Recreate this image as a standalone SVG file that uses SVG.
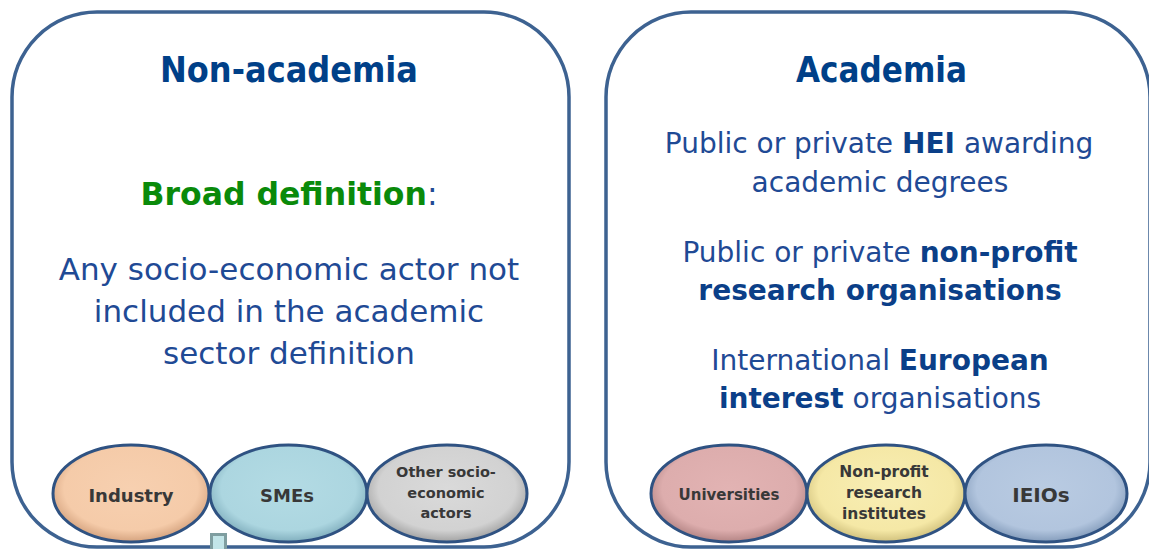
<svg xmlns="http://www.w3.org/2000/svg" width="1149" height="549" viewBox="0 0 1149 549">
<style>
.panel{fill:#ffffff;stroke:#3d6291;stroke-width:3.5}
.title{font-family:"DejaVu Sans",Verdana,sans-serif;font-weight:bold;font-size:35px;fill:#004088;text-anchor:middle}
.body{font-family:"DejaVu Sans",Verdana,sans-serif;fill:#1f4a95;text-anchor:middle}
.b{font-weight:bold;fill:#0b3f88}
.green{font-weight:bold;fill:#0a8a0a}
.ell{stroke:#2f5282;stroke-width:3}
.lbl{font-family:"DejaVu Sans",Verdana,sans-serif;font-weight:bold;fill:#383838;text-anchor:middle}
</style>
<defs>
<radialGradient id="gPeach" cx="50%" cy="45%" r="55%"><stop offset="0" stop-color="#f7d0b0"/><stop offset="0.78" stop-color="#f5cba9"/><stop offset="1" stop-color="#d4a27e"/></radialGradient>
<radialGradient id="gCyan" cx="50%" cy="45%" r="55%"><stop offset="0" stop-color="#b3dbe4"/><stop offset="0.78" stop-color="#acd6e0"/><stop offset="1" stop-color="#80aebd"/></radialGradient>
<radialGradient id="gGray" cx="50%" cy="45%" r="55%"><stop offset="0" stop-color="#dadada"/><stop offset="0.78" stop-color="#d2d2d2"/><stop offset="1" stop-color="#a2a2a2"/></radialGradient>
<radialGradient id="gPink" cx="50%" cy="45%" r="55%"><stop offset="0" stop-color="#e2b3b3"/><stop offset="0.78" stop-color="#ddadad"/><stop offset="1" stop-color="#b38484"/></radialGradient>
<radialGradient id="gYellow" cx="50%" cy="45%" r="55%"><stop offset="0" stop-color="#f8eeb4"/><stop offset="0.78" stop-color="#f5e8a6"/><stop offset="1" stop-color="#d0c07c"/></radialGradient>
<radialGradient id="gBlue" cx="50%" cy="45%" r="55%"><stop offset="0" stop-color="#b9cbe2"/><stop offset="0.78" stop-color="#b2c5de"/><stop offset="1" stop-color="#849cbb"/></radialGradient>
</defs>

<g id="non-academia">
<rect class="panel" x="12" y="12" width="557" height="535" rx="85" ry="85"/>
<text class="title" x="289" y="82" textLength="258" lengthAdjust="spacingAndGlyphs">Non-academia</text>
<text class="body" x="289" y="205" font-size="31.5"><tspan class="green">Broad definition</tspan>:</text>
<text class="body" x="289" y="280" font-size="31">Any socio-economic actor not</text>
<text class="body" x="289" y="322" font-size="31">included in the academic</text>
<text class="body" x="289" y="364" font-size="31">sector definition</text>
</g>

<g id="academia">
<rect class="panel" x="606" y="12" width="544" height="535" rx="85" ry="85"/>
<text class="title" x="881.5" y="82" textLength="171" lengthAdjust="spacingAndGlyphs">Academia</text>
<text class="body" x="879" y="153" font-size="28">Public or private <tspan class="b">HEI</tspan> awarding</text>
<text class="body" x="880" y="192" font-size="28">academic degrees</text>
<text class="body" x="880" y="262" font-size="28">Public or private <tspan class="b">non-profit</tspan></text>
<text class="body" x="880" y="300" font-size="28"><tspan class="b">research organisations</tspan></text>
<text class="body" x="880" y="370" font-size="28">International <tspan class="b">European</tspan></text>
<text class="body" x="880" y="408" font-size="28"><tspan class="b">interest</tspan> organisations</text>
</g>

<g id="marker-square">
<rect x="210" y="533" width="17" height="16" fill="#7f9ea0"/>
<rect x="213" y="536" width="11" height="13" fill="#c2e5e8"/>
</g>

<g id="industry">
<ellipse class="ell" cx="131" cy="493.5" rx="78" ry="48.5" fill="url(#gPeach)"/>
<text class="lbl" x="131" y="502" font-size="18">Industry</text>
</g>
<g id="smes">
<ellipse class="ell" cx="288.5" cy="493.5" rx="78.5" ry="48.5" fill="url(#gCyan)"/>
<text class="lbl" x="287" y="502" font-size="18">SMEs</text>
</g>
<g id="other">
<ellipse class="ell" cx="447" cy="493.5" rx="80" ry="48.5" fill="url(#gGray)"/>
<text class="lbl" x="446" y="477" font-size="14.5">Other socio-</text>
<text class="lbl" x="446" y="497.5" font-size="14.5">economic</text>
<text class="lbl" x="446" y="518" font-size="14.5">actors</text>
</g>

<g id="universities">
<ellipse class="ell" cx="729" cy="493.5" rx="78" ry="48.5" fill="url(#gPink)"/>
<text class="lbl" x="729" y="500" font-size="15">Universities</text>
</g>
<g id="nonprofit">
<ellipse class="ell" cx="886" cy="493.5" rx="79" ry="48.5" fill="url(#gYellow)"/>
<text class="lbl" x="884" y="477" font-size="15.5">Non-profit</text>
<text class="lbl" x="884" y="498" font-size="15.5">research</text>
<text class="lbl" x="884" y="518.5" font-size="15.5">institutes</text>
</g>
<g id="ieios">
<ellipse class="ell" cx="1046" cy="493.5" rx="81" ry="48.5" fill="url(#gBlue)"/>
<text class="lbl" x="1041" y="502" font-size="20">IEIOs</text>
</g>

<g id="connectors"></g>
</svg>
